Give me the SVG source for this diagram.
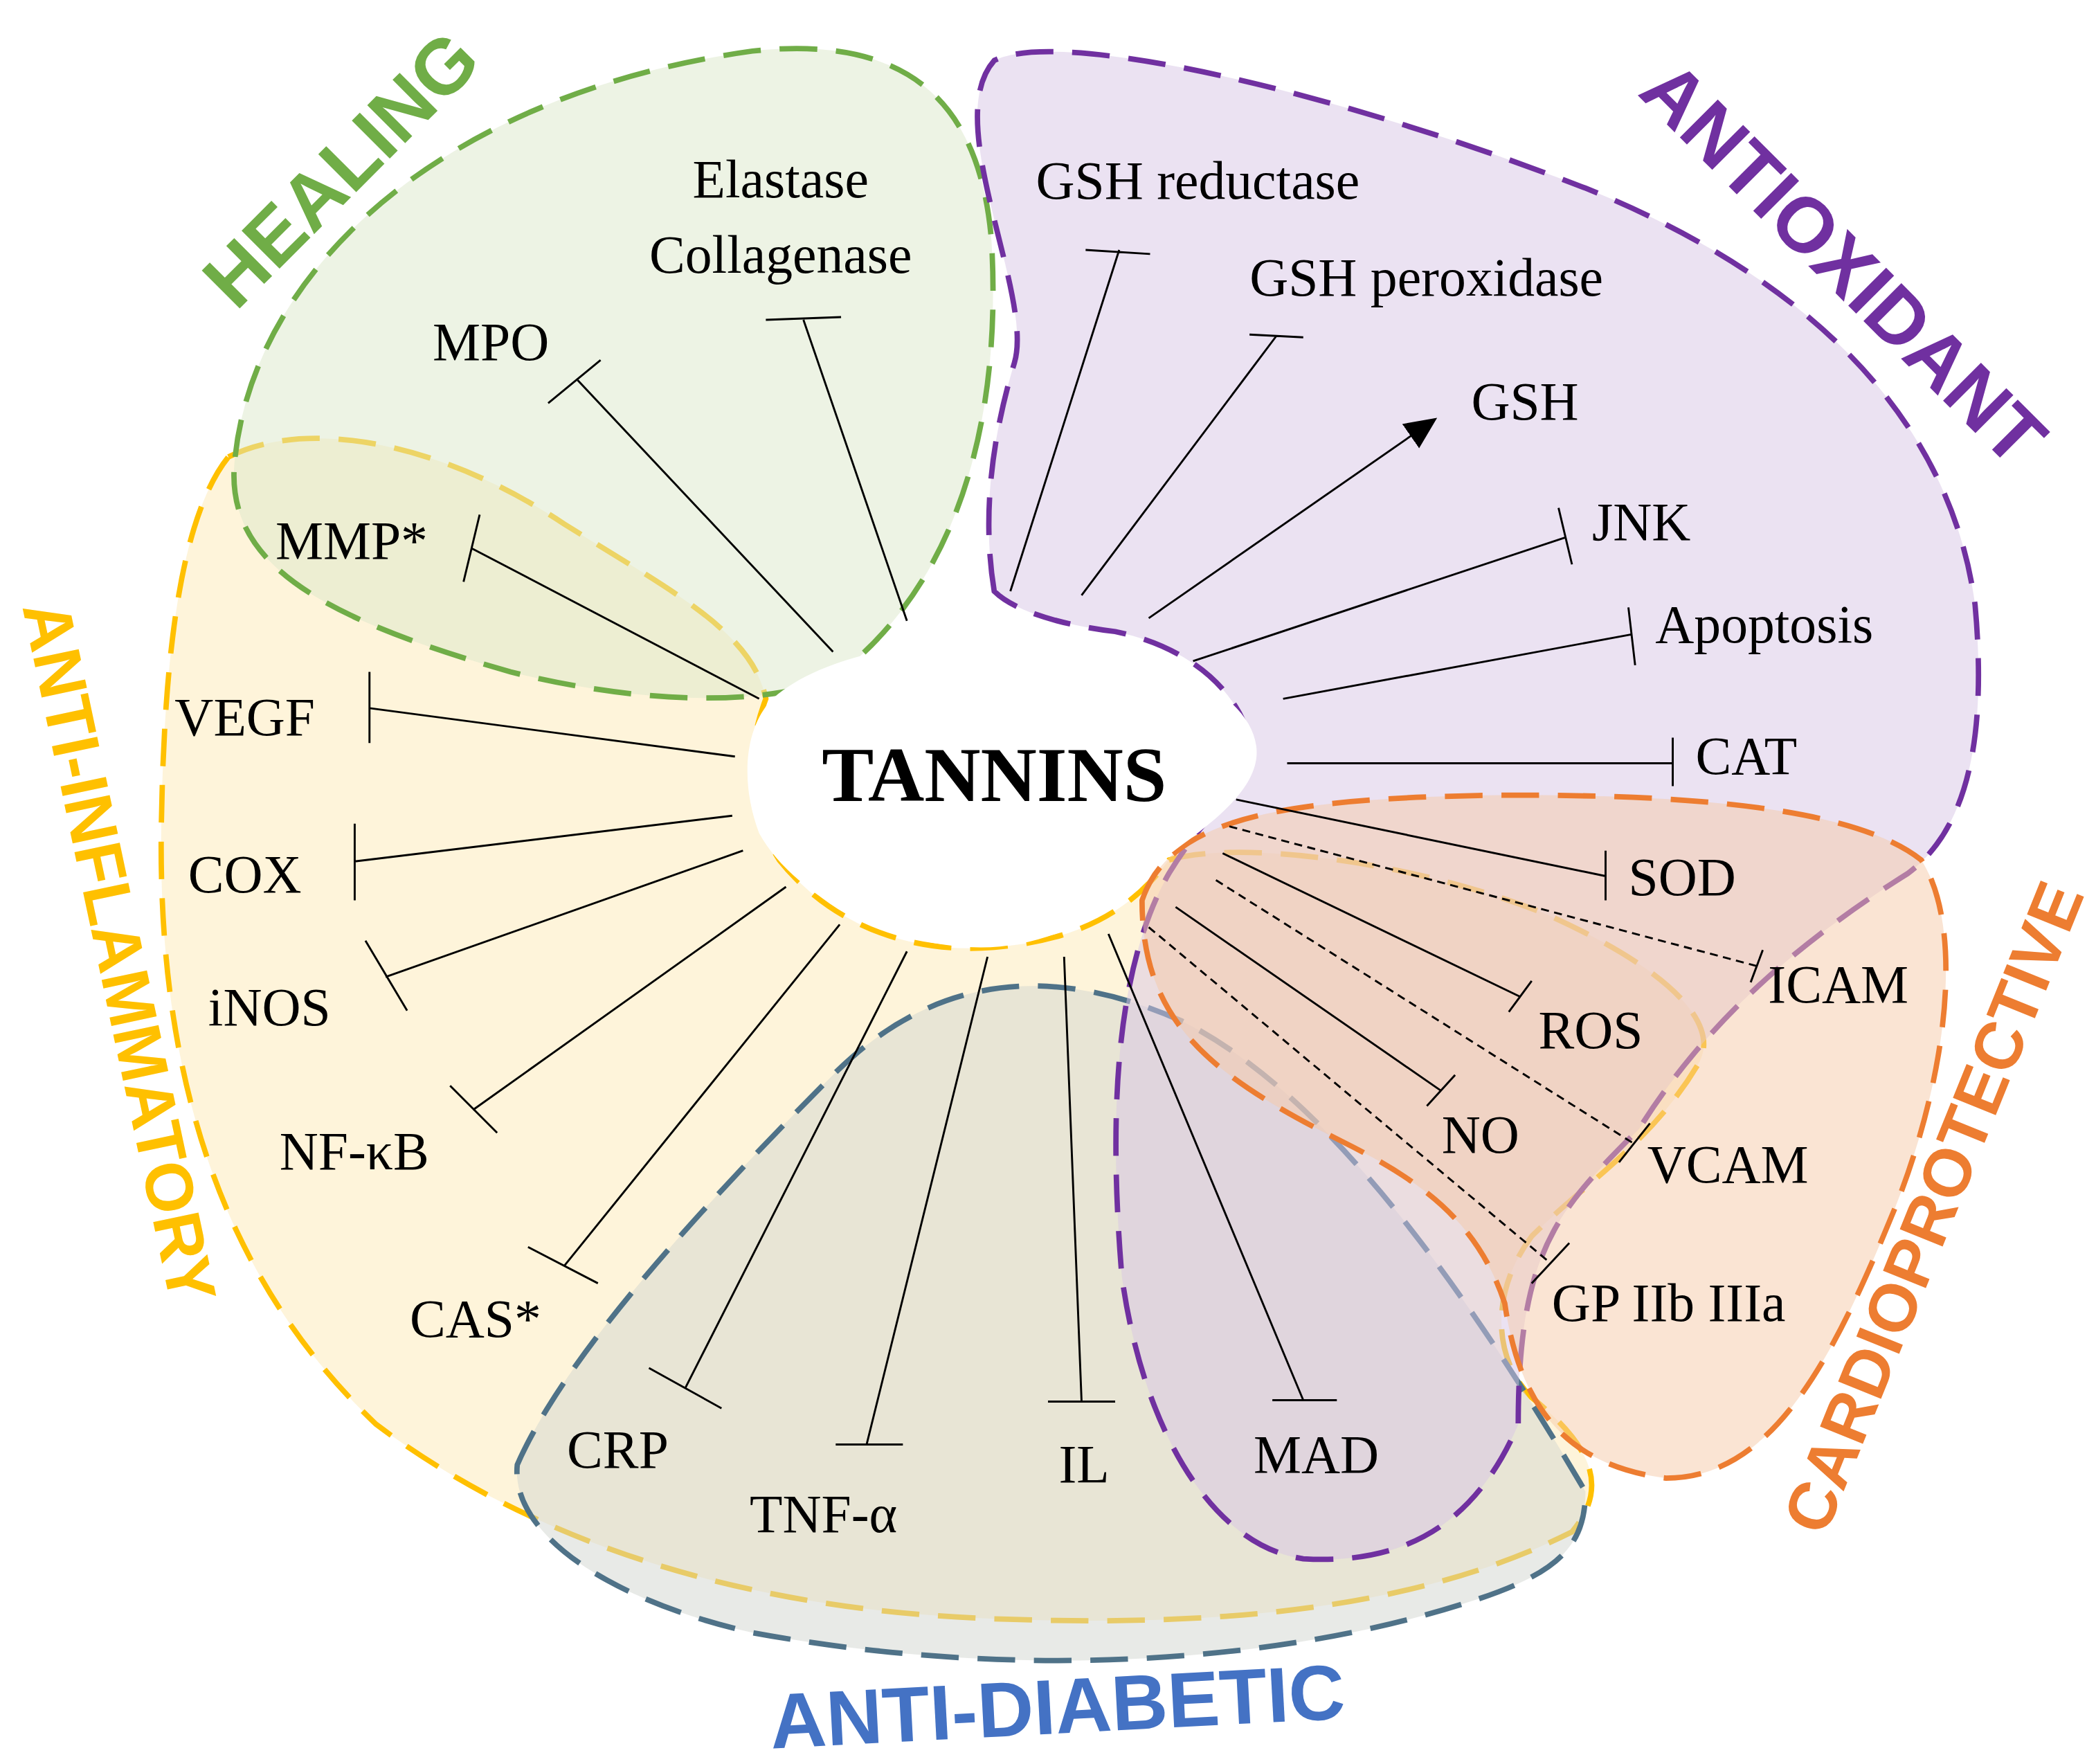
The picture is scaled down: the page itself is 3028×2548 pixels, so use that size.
<svg xmlns="http://www.w3.org/2000/svg" width="3028" height="2548" viewBox="0 0 3028 2548">
<style>
.r{stroke-width:4;stroke-dasharray:28 14;fill-opacity:.5}
.l{stroke:#000;stroke-width:1.5;fill:none}
.d{stroke-dasharray:6 4}
.t{font-family:"Liberation Serif",serif;font-size:40px;fill:#000}
.c{font-family:"Liberation Sans",sans-serif;font-weight:bold;font-size:58px;text-anchor:middle}
</style>
<defs><marker id="a" markerWidth="26" markerHeight="26" refX="22" refY="13" orient="auto" markerUnits="userSpaceOnUse" viewBox="0 0 26 26"><path d="M0,2L24,13L0,24z"/></marker></defs>
<rect width="3028" height="2548" fill="#fff"/>
<g transform="scale(1.941)">
<g id="regions">
<path id="inflam" class="r" fill="#fde9b5" stroke="#ffc000" d="M170,340 C230,310 330,330 420,390 C500,440 560,470 570,520 C555,560 555,600 580,640 C620,690 680,710 740,705 C800,700 840,680 870,640 C920,625 1050,640 1150,680 C1240,720 1280,760 1265,790 C1230,850 1180,880 1140,920 C1110,960 1110,1010 1140,1040 C1190,1080 1195,1110 1170,1140 C1050,1200 900,1210 750,1205 C560,1200 400,1150 280,1060 C175,960 118,820 120,620 C122,470 138,380 170,340Z"/>
<path id="diabetic" class="r" fill="#d2d6cf" stroke="#4f7288" d="M385,1090 C420,1010 520,900 620,800 C700,720 790,720 880,760 C980,810 1080,940 1180,1110 C1180,1150 1160,1170 1100,1190 C950,1240 750,1250 560,1215 C450,1190 380,1140 385,1090Z"/>
<path id="healing" class="r" fill="#dce8c9" stroke="#70ad47" d="M175,340 C190,200 330,70 560,38 C680,25 730,80 738,180 C745,300 720,430 620,505 C570,525 480,525 380,500 C240,460 165,420 175,340Z"/>
<path id="antioxidant" class="r" fill="#d7c6e6" stroke="#7030a0" d="M740,440 C730,380 740,320 755,270 C770,220 700,90 740,45 C790,20 1000,70 1180,140 C1330,200 1450,300 1470,450 C1480,560 1460,620 1420,650 C1340,700 1270,760 1220,840 C1160,900 1130,930 1130,1060 C1100,1130 1050,1165 970,1160 C900,1150 850,1060 835,950 C825,830 830,720 870,650 C900,600 935,580 930,550 C920,510 880,480 830,470 C790,465 755,455 740,440Z"/>
<path id="cardio" class="r" fill="#f5c9a8" stroke="#ed7d31" d="M850,670 C870,610 950,595 1100,592 C1250,590 1380,600 1430,640 C1462,690 1450,800 1410,900 C1365,1010 1320,1100 1240,1100 C1160,1090 1130,1040 1120,970 C1100,910 1060,880 1000,850 C900,800 850,760 850,670Z"/>
<path id="tanninsblob" fill="#fff" d="M575,520 C620,480 720,470 800,480 C880,490 930,520 935,555 C940,590 890,620 865,640 C830,680 780,705 730,705 C660,705 590,665 565,620 C550,580 555,540 575,520Z"/>
</g>
<g id="connectors">
<path class="l" d="M620,485L430,283M408,300L447,268"/>
<path class="l" d="M675,462L598,238M570,238L626,236"/>
<path class="l" d="M752,440L833,186M808,186L856,189"/>
<path class="l" d="M805,443L950,250M930,249L970,251"/>
<path class="l" d="M855,460L1068,312" marker-end="url(#a)"/>
<path class="l" d="M888,492L1165,400M1160,378L1170,420"/>
<path class="l" d="M955,520L1215,472M1212,452L1217,495"/>
<path class="l" d="M958,568L1245,568M1245,549L1245,585"/>
<path class="l" d="M920,595L1195,652M1195,633L1195,670"/>
<path class="l d" d="M915,615L1308,719"/><path class="l" d="M1303,731L1312,707"/>
<path class="l" d="M910,635L1132,742M1123,753L1140,730"/>
<path class="l d" d="M905,655L1216,851"/><path class="l" d="M1205,865L1228,836"/>
<path class="l" d="M875,675L1073,812M1062,823L1083,800"/>
<path class="l d" d="M855,690L1154,940"/><path class="l" d="M1140,955L1168,925"/>
<path class="l" d="M825,695L970,1042M947,1042L995,1042"/>
<path class="l" d="M792,712L805,1043M780,1043L830,1043"/>
<path class="l" d="M735,712L645,1075M622,1075L672,1075"/>
<path class="l" d="M675,708L510,1033M483,1018L537,1048"/>
<path class="l" d="M625,688L420,942M393,928L445,955"/>
<path class="l" d="M585,660L352,826M335,808L370,843"/>
<path class="l" d="M553,633L287,727M272,700L303,752"/>
<path class="l" d="M545,607L264,641M264,613L264,670"/>
<path class="l" d="M547,563L275,527M275,500L275,553"/>
<path class="l" d="M565,520L351,408M345,433L357,383"/>
</g>
<g id="labels">
<text x="740" y="596" style="font-family:'Liberation Serif',serif;font-weight:bold;font-size:58px;text-anchor:middle">TANNINS</text>
<text class="t" x="322" y="268">MPO</text>
<text class="t" x="581" y="147" text-anchor="middle">Elastase</text>
<text class="t" x="581" y="203" text-anchor="middle">Collagenase</text>
<text class="t" x="771" y="148">GSH reductase</text>
<text class="t" x="930" y="220">GSH peroxidase</text>
<text class="t" x="1095" y="312">GSH</text>
<text class="t" x="1185" y="402">JNK</text>
<text class="t" x="1232" y="478">Apoptosis</text>
<text class="t" x="1262" y="576">CAT</text>
<text class="t" x="1212" y="666">SOD</text>
<text class="t" x="1316" y="746">ICAM</text>
<text class="t" x="1145" y="780">ROS</text>
<text class="t" x="1226" y="880">VCAM</text>
<text class="t" x="1073" y="858">NO</text>
<text class="t" x="1155" y="983">GP IIb IIIa</text>
<text class="t" x="933" y="1096">MAD</text>
<text class="t" x="788" y="1103">IL</text>
<text class="t" x="558" y="1140">TNF-α</text>
<text class="t" x="422" y="1092">CRP</text>
<text class="t" x="305" y="995">CAS*</text>
<text class="t" x="208" y="870">NF-κB</text>
<text class="t" x="155" y="763">iNOS</text>
<text class="t" x="140" y="664">COX</text>
<text class="t" x="130" y="547">VEGF</text>
<text class="t" x="205" y="416">MMP*</text>
<text class="c" fill="#70ad47" transform="translate(268,140) rotate(-45)">HEALING</text>
<text class="c" fill="#7030a0" transform="translate(1358,210) rotate(45)">ANTIOXIDANT</text>
<text class="c" fill="#ffc000" style="font-size:50px" transform="translate(72,712) rotate(78)">ANTI-INFLAMMATORY</text>
<text class="c" fill="#ed7d31" style="font-size:50px" transform="translate(1455,905) rotate(-68)">CARDIOPROTECTIVE</text>
<text class="c" fill="#4472c4" transform="translate(788,1290) rotate(-3)">ANTI-DIABETIC</text>
</g>
</g>
</svg>
